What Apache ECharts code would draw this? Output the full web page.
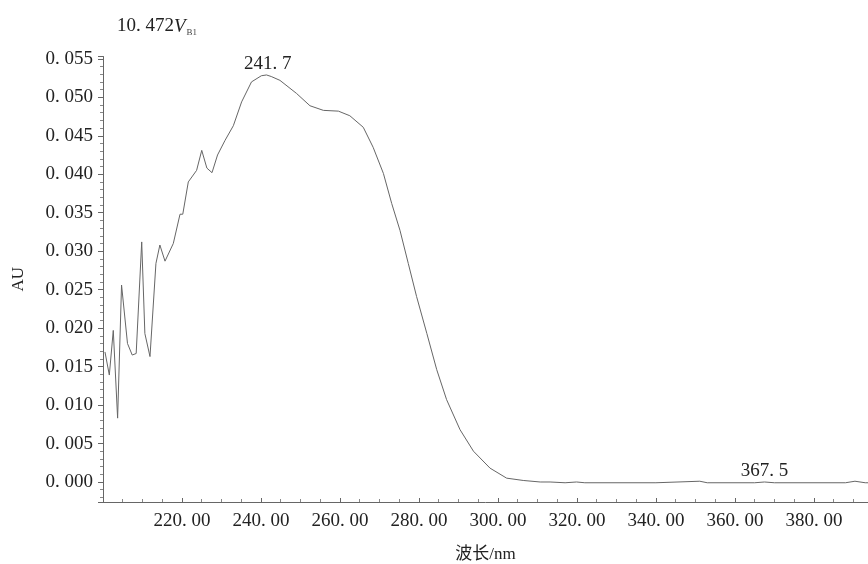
<!DOCTYPE html>
<html>
<head>
<meta charset="utf-8">
<title>10.472 VB1</title>
<script src="https://cdn.jsdelivr.net/npm/echarts@6/dist/echarts.min.js"></script>
<style>
  html, body { margin: 0; padding: 0; background: #fff; }
  #chart { width: 868px; height: 564px; }
</style>
</head>
<body>
<div id="chart"></div>
<script>
// wavelength (nm) / absorbance (AU)
const wavelength = [
  200.5, 201.6, 202.6, 203.7, 204.7, 206.2, 207.4, 208.4, 209.8, 210.6,
  211.9, 213.4, 214.4, 215.7, 217.8, 219.5, 220.2, 221.6, 223.7, 225.0,
  226.3, 227.6, 229.0, 230.9, 233.0, 235.1, 237.6, 240.1, 241.4, 242.6,
  244.8, 249.0, 252.4, 255.8, 259.6, 262.5, 265.9, 268.4, 271.0, 273.1,
  275.2, 277.3, 279.4, 282.0, 284.5, 287.0, 290.4, 293.8, 298.0, 302.2,
  306.4, 310.7, 313.2, 317.0, 319.9, 322.0, 340.0, 351.1, 353.0, 365.0,
  367.5, 370.0, 388.0, 390.4, 393.0, 394.0
]
const absorbance = [
  0.0169, 0.0139, 0.0197, 0.0083, 0.0256, 0.0180, 0.0165, 0.0167, 0.0312, 0.0193,
  0.0163, 0.0284, 0.0308, 0.0287, 0.0310, 0.0348, 0.0348, 0.0390, 0.0405, 0.0431,
  0.0408, 0.0402, 0.0425, 0.0444, 0.0463, 0.0494, 0.0520, 0.0528, 0.0529, 0.0527,
  0.0522, 0.0505, 0.0489, 0.0483, 0.0482, 0.0476, 0.0461, 0.0435, 0.0401, 0.0362,
  0.0327, 0.0284, 0.0241, 0.0193, 0.0146, 0.0107, 0.0068, 0.0040, 0.0018, 0.0005,
  0.0002, 0.0000, 0.0000, -0.0001, 0.0000, -0.0001, -0.0001, 0.0001, -0.0001, -0.0001,
  0.0000, -0.0001, -0.0001, 0.0001, -0.0001, -0.0001
]
// labelled peaks
const peakWave = [241.7, 367.5]
const peakAbs = [0.0529, 0.0000]

const serif = '"Liberation Serif", "Noto Sans CJK SC", serif'
const spaced = s => String(s).replace('.', '. ')

const chart = echarts.init(document.getElementById('chart'))
chart.setOption({
  backgroundColor: '#fff',
  animation: false,
  title: {
    left: 112,
    top: 11,
    text: '{a|10. 472}{v|V}{s|B1}',
    textStyle: {
      fontWeight: 'normal',
      rich: {
        a: { fontFamily: serif, fontSize: 19, color: '#222' },
        v: { fontFamily: serif, fontSize: 19, fontStyle: 'italic', color: '#222' },
        s: { fontFamily: serif, fontSize: 9, color: '#444', padding: [12, 0, 0, 1] }
      }
    }
  },
  grid: {
    left: 103,
    right: 0,
    top: 56.5,
    bottom: 62,
    containLabel: false,
    outerBoundsMode: 'none'
  },
  xAxis: {
    type: 'value',
    min: 200,
    max: 393.7,
    interval: 20,
    name: '波长/nm',
    nameLocation: 'middle',
    nameGap: 44,
    nameTextStyle: { fontFamily: serif, fontSize: 17, color: '#222' },
    axisLine: { onZero: false, lineStyle: { color: '#666', width: 1 } },
    axisTick: { show: true, inside: true, length: 4, lineStyle: { color: '#666' } },
    minorTick: { show: true, splitNumber: 4, length: 3, lineStyle: { color: '#888' } },
    splitLine: { show: false },
    axisLabel: {
      showMinLabel: false,
      showMaxLabel: false,
      margin: 10,
      fontFamily: serif,
      fontSize: 19,
      color: '#222',
      formatter: v => spaced(v.toFixed(2))
    }
  },
  yAxis: {
    type: 'value',
    min: -0.0026,
    max: 0.0553,
    splitNumber: 12,
    name: 'AU',
    nameLocation: 'middle',
    nameGap: 76,
    nameTextStyle: { fontFamily: serif, fontSize: 17, color: '#222' },
    axisLine: { show: true, onZero: false, lineStyle: { color: '#666', width: 1 } },
    axisTick: { show: true, length: 5, lineStyle: { color: '#666' } },
    minorTick: { show: true, splitNumber: 5, length: 3, lineStyle: { color: '#888' } },
    splitLine: { show: false },
    axisLabel: {
      showMinLabel: false,
      showMaxLabel: false,
      margin: 10,
      fontFamily: serif,
      fontSize: 19,
      color: '#222',
      formatter: v => spaced(v.toFixed(3))
    }
  },
  series: [{
    type: 'line',
    data: wavelength.map((w, i) => [w, absorbance[i]]),
    showSymbol: false,
    lineStyle: { color: '#666', width: 1 },
    markPoint: {
      symbol: 'circle',
      symbolSize: 0,
      label: {
        show: true,
        position: 'top',
        distance: 1,
        fontFamily: serif,
        fontSize: 19,
        color: '#222',
        formatter: p => spaced(p.name)
      },
      data: peakWave.map((w, i) => ({ name: String(w), coord: [w, peakAbs[i]] }))
    }
  }]
})
</script>
</body>
</html>
